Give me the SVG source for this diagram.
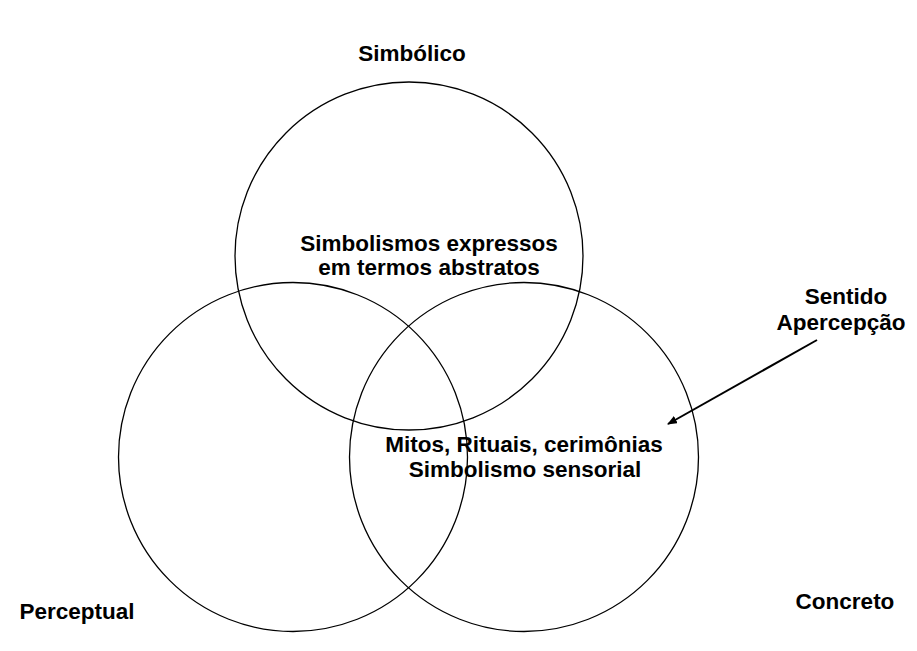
<svg xmlns="http://www.w3.org/2000/svg" width="917" height="651" viewBox="0 0 917 651">
<style>
.c{fill:none;stroke:#000;stroke-width:1.3}
.t{font-family:"Liberation Sans",Arial,sans-serif;font-weight:bold;font-size:22.5px;fill:#000;text-anchor:middle}
</style>
<defs>
<marker id="ah" markerWidth="10" markerHeight="8" refX="9" refY="4" orient="auto" markerUnits="userSpaceOnUse">
<path d="M0,0 L10,4 L0,8 Z" fill="#000"/>
</marker>
</defs>
<rect width="917" height="651" fill="#fff"/>
<g id="simbolico">
<circle class="c" cx="409" cy="256" r="174"/>
<text class="t" x="412" y="61">Simbólico</text>
<text class="t" x="429" y="251">Simbolismos expressos</text>
<text class="t" x="429" y="275">em termos abstratos</text>
</g>
<g id="perceptual">
<circle class="c" cx="293" cy="457" r="174.5"/>
<text class="t" x="77" y="619">Perceptual</text>
</g>
<g id="concreto">
<circle class="c" cx="524" cy="457" r="174.5"/>
<text class="t" x="845" y="609">Concreto</text>
<text class="t" x="524" y="452">Mitos, Rituais, cerimônias</text>
<text class="t" x="525" y="477">Simbolismo sensorial</text>
</g>
<g id="sentido">
<text class="t" x="846" y="304">Sentido</text>
<text class="t" x="841" y="330">Apercepção</text>
</g>
<g id="connectors">
<line x1="817" y1="340" x2="668" y2="424" stroke="#000" stroke-width="2" marker-end="url(#ah)"/>
</g>
</svg>
